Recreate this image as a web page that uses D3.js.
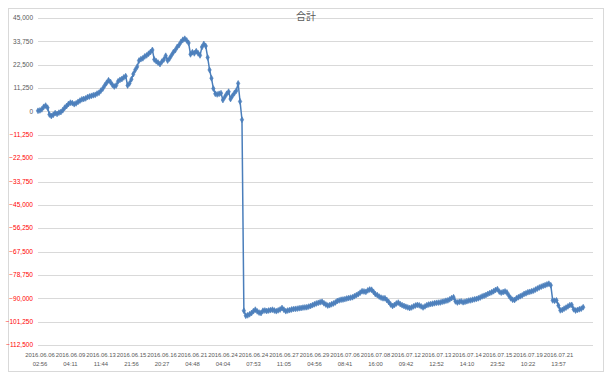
<!DOCTYPE html>
<html><head><meta charset="utf-8">
<script src="https://cdn.jsdelivr.net/npm/d3@7"></script>
<style>body{margin:0;background:#fff}svg{display:block}</style>
</head><body>
<svg id="c" width="613" height="377"></svg>
<script>
const title = "合計";
const yTicks = [45000,33750,22500,11250,0,-11250,-22500,-33750,-45000,-56250,-67500,-78750,-90000,-101250,-112500];
const labelEvery = 16;
const xLabels = [
 ["2016.06.06","02:56"],["2016.06.09","04:11"],["2016.06.13","11:44"],["2016.06.15","21:56"],
 ["2016.06.16","20:27"],["2016.06.21","04:48"],["2016.06.24","04:04"],["2016.06.24","07:53"],
 ["2016.06.27","11:05"],["2016.06.29","04:56"],["2016.07.06","08:41"],["2016.07.08","16:00"],
 ["2016.07.12","09:42"],["2016.07.13","12:52"],["2016.07.14","14:10"],["2016.07.15","23:52"],
 ["2016.07.19","10:22"],["2016.07.21","13:57"]
];
const values = [
 300,500,1000,2200,2800,1800,-1500,-2200,-1600,-800,
 -1200,-600,-300,600,1800,2600,3600,4200,4000,3500,
 3900,4600,5200,5800,6000,6300,6900,7200,7500,7800,
 8000,8600,9000,10000,11000,12500,13800,15000,14200,12800,
 12000,12500,14500,15200,15600,16400,17000,12500,13500,15500,
 18000,20000,21500,24500,25200,25600,26500,27000,27800,28600,
 29600,25000,24200,23500,22800,24000,25000,26800,24500,25500,
 27000,28500,29500,31000,32000,33500,34500,35000,34200,33000,
 27500,28500,28000,29000,28000,27000,31000,32500,31500,26000,
 20000,16000,11000,8500,8200,8500,8800,5500,7000,8500,
 9500,6000,7500,8800,10000,13500,4800,-4000,
 -96000,-98400,-98200,-97700,-97100,-96200,-95500,-96300,-96900,-97100,
 -96000,-95900,-96100,-95900,-95700,-95500,-95900,-96200,-95800,-95400,
 -94700,-95500,-96200,-95900,-95700,-95400,-95200,-95100,-95000,-94800,
 -94700,-94500,-94400,-94300,-94000,-93700,-93300,-92900,-92500,-92200,
 -91900,-91700,-92400,-93000,-93500,-93300,-92900,-92500,-92000,-91300,
 -91000,-90700,-90600,-90400,-90100,-89900,-89700,-89500,-89000,-88500,
 -88000,-87300,-86600,-86700,-86900,-86200,-85800,-85900,-86900,-88000,
 -88500,-89200,-89700,-90000,-90000,-90800,-91800,-93000,-93700,-93200,
 -92500,-92100,-92800,-93300,-93700,-94100,-94400,-94700,-94400,-93900,
 -93500,-93200,-93400,-93900,-94400,-93900,-93300,-93000,-92800,-92600,
 -92400,-92200,-92100,-92000,-91700,-91500,-91200,-91000,-90500,-89900,
 -89500,-91500,-92000,-91700,-91500,-91900,-91700,-91400,-91100,-91000,
 -90700,-90500,-90300,-90000,-89600,-89100,-88800,-88400,-87900,-87500,
 -87100,-86600,-86000,-85600,-86800,-87300,-87000,-86700,-87200,-88700,
 -90000,-90700,-90800,-90000,-89500,-89000,-88600,-87900,-87600,-87100,
 -86900,-86600,-86300,-85800,-85300,-84800,-84400,-84000,-83700,-83300,
 -83000,-83700,-91000,-91200,-91000,-93500,-95800,-95600,-95000,-94500,
 -93900,-93300,-93200,-95300,-95900,-95600,-95300,-95000,-94300
];

const svg = d3.select("#c");
const plotL = 38, plotR = 593, plotT = 18, plotB = 345;
const step = 30.5 / labelEvery;

svg.append("rect").attr("x",8.5).attr("y",8.5).attr("width",595).attr("height",363)
  .attr("fill","#fff").attr("stroke","#d9d9d9").attr("stroke-width",1);

const idx = d3.range(values.length);
const x = d3.scalePoint().domain(idx).range([plotL, plotL + step*(values.length-1)]);
const y = d3.scaleLinear().domain([-112500, 45000]).range([plotB, plotT]);

// gridlines
svg.append("g").selectAll("line").data(yTicks).join("line")
  .attr("x1",plotL).attr("x2",plotR)
  .attr("y1",d=>Math.round(y(d))+0.5).attr("y2",d=>Math.round(y(d))+0.5)
  .attr("stroke","#d9d9d9").attr("stroke-width",1);

// y axis labels
const fmt = d3.format(",");
svg.append("g").selectAll("text").data(yTicks).join("text")
  .attr("x",33).attr("y",d=>y(d)).attr("dy","0.35em")
  .attr("text-anchor","end")
  .attr("font-family","Liberation Sans, Arial, sans-serif").attr("font-size",6.5)
  .attr("fill",d=>d<0?"#ff0000":"#595959")
  .text(d=>fmt(d));

// x axis labels
const xl = svg.append("g").selectAll("text").data(xLabels).join("text")
  .attr("x",(d,i)=>x(i*labelEvery)+2)
  .attr("y",357)
  .attr("text-anchor","middle")
  .attr("font-family","Liberation Sans, Arial, sans-serif").attr("font-size",5.9)
  .attr("fill","#595959");
xl.append("tspan").attr("x",(d,i)=>x(i*labelEvery)+2).attr("dy",0).text(d=>d[0]);
xl.append("tspan").attr("x",(d,i)=>x(i*labelEvery)+2).attr("dy",9).text(d=>d[1]);

// title
svg.append("text").attr("x",306).attr("y",20).attr("text-anchor","middle")
  .attr("font-family","Noto Sans CJK JP, sans-serif").attr("font-size",10)
  .attr("fill","#595959").text(title);

// line
const line = d3.line().x((d,i)=>x(i)).y(d=>y(d));
svg.append("path").datum(values).attr("d",line)
  .attr("fill","none").attr("stroke","#4a7ebb").attr("stroke-width",1.5)
  .attr("stroke-linejoin","round");

// markers
const sym = d3.symbol().type(d3.symbolDiamond).size(10);
svg.append("g").selectAll("path").data(values).join("path")
  .attr("transform",(d,i)=>`translate(${x(i)},${y(d)})`)
  .attr("d",sym).attr("fill","#4f81bd").attr("stroke","#4a7ebb").attr("stroke-width",0.6);
</script>
</body></html>
